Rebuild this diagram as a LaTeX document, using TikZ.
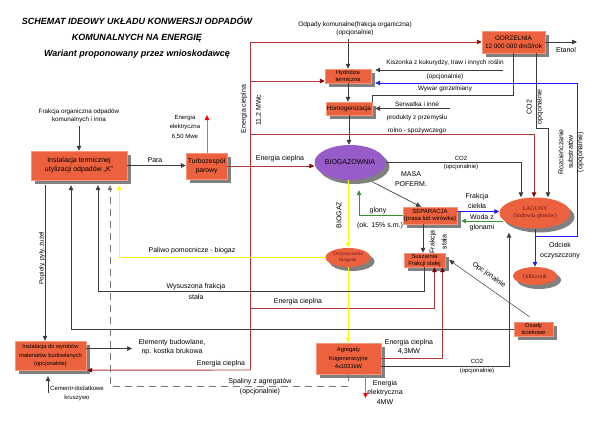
\documentclass[tikz,border=0pt]{standalone}
\usepackage{fontspec}
\setmainfont{Liberation Sans}
\newfontfamily\ovalfont{Liberation Serif}
\usetikzlibrary{arrows.meta,shapes.geometric,shadows}

\definecolor{boxfill}{RGB}{236,98,62}
\definecolor{boxedge}{RGB}{246,150,122}
\definecolor{shade}{RGB}{128,128,128}
\definecolor{biofill}{RGB}{152,92,200}
\definecolor{heatcol}{RGB}{175,55,55}
\definecolor{heatdark}{RGB}{130,0,0}
\definecolor{eleccol}{RGB}{255,90,90}
\definecolor{linegray}{RGB}{60,60,60}
\definecolor{ovaltext}{RGB}{110,20,20}
\definecolor{biogas}{RGB}{255,255,0}
\definecolor{watcol}{RGB}{30,30,255}
\definecolor{algcol}{RGB}{50,150,50}

\tikzset{
	box/.style={draw=boxedge, line width=0.4pt, fill=boxfill, inner sep=0pt, align=center,
		font=\fontsize{6.4}{7.6}\selectfont,
		drop shadow={shadow xshift=4pt, shadow yshift=-4pt, fill=shade, opacity=1}},
	oval/.style={ellipse, fill=boxfill, inner sep=0pt, align=center, text=ovaltext,
		font=\ovalfont\fontsize{5.9}{7}\selectfont,
		drop shadow={shadow xshift=4pt, shadow yshift=-4pt, fill=shade, opacity=1}},
	lbl/.style={inner sep=0pt, align=center, font=\fontsize{7}{10}\selectfont},
	sml/.style={inner sep=0pt, align=center, font=\fontsize{6}{8}\selectfont},
	arr/.style={-{Triangle[length=5pt,width=4.5pt]}},
	gline/.style={draw=linegray, line width=0.7pt},
	heat/.style={draw=heatcol, line width=0.9pt},
	heattip/.style={-{Triangle[length=5pt,width=4.5pt,color=heatdark]}},
	elec/.style={draw=eleccol, line width=0.8pt, -{Triangle[length=5pt,width=4.5pt,color=red]}},
	wat/.style={draw=watcol, line width=0.8pt},
	alg/.style={draw=algcol, line width=0.8pt},
	bio/.style={draw=biogas, line width=0.9pt},
}

\begin{document}
\begin{tikzpicture}[x=1pt, y=-1pt]
		%%%%% START %%%%%
		
		\fill[white] (0,0) rectangle (600,423);
		\useasboundingbox (0,0) rectangle (600,423);
		
		\node[inner sep=0pt, align=center, font=\fontsize{9}{16}\selectfont\bfseries\itshape] (title) at (137,37) {SCHEMAT IDEOWY UKŁADU KONWERSJI ODPADÓW\\KOMUNALNYCH NA ENERGIĘ\\Wariant proponowany przez wnioskodawcę};
		
		\node[box, minimum width=96pt, minimum height=29pt, font=\fontsize{7}{9}\selectfont] (K) at (79,165.5) {Instalacja termicznej\\utylizacji odpadów „K”};
		\node[box, minimum width=41pt, minimum height=26pt, font=\fontsize{6.8}{8.5}\selectfont] (turbo) at (206.5,166) {Turbozespół\\parowy};
		\node[box, minimum width=63pt, minimum height=22pt] (gorz) at (513.5,42) {GORZELNIA\\12 000 000 dm3/rok};
		\node[box, minimum width=46pt, minimum height=14pt, font=\fontsize{5.7}{7}\selectfont] (hydro) at (348,76) {Hydroliza\\termiczna};
		\node[box, minimum width=46pt, minimum height=13pt] (homo) at (349,108.5) {Homogenizacja};
		\node[ellipse, fill=biofill, inner sep=0pt, minimum width=66pt, minimum height=35pt, text=black, font=\fontsize{7}{8}\selectfont,
			drop shadow={shadow xshift=4pt, shadow yshift=-4pt, fill=shade, opacity=1}] (biogaz) at (350,162.5) {BIOGAZOWNIA};
		\node[box, minimum width=54pt, minimum height=17pt, font=\fontsize{6}{7.4}\selectfont] (separ) at (430,215.5) {SEPARACJA\\(prasa lub wirówka)};
		\node[oval, minimum width=71pt, minimum height=31pt] (lagun) at (535,213) {LAGUNY\\(hodowla glonów)};
		\node[oval, minimum width=44pt, minimum height=18pt] (odbior) at (535,276) {Odbiornik};
		\node[oval, minimum width=45pt, minimum height=19pt, font=\ovalfont\fontsize{5.5}{6.5}\selectfont] (oczysz) at (348,257.5) {Oczyszczanie\\biogazu};
		\node[box, minimum width=41pt, minimum height=14pt, font=\fontsize{5.8}{7}\selectfont] (susz) at (424.5,260) {Suszarnia\\Frakcji stałej};
		\node[box, minimum width=39pt, minimum height=14pt, font=\fontsize{5.8}{7}\selectfont] (osady) at (533.5,329) {Osady\\ściekowe};
		\node[box, minimum width=65pt, minimum height=31pt, font=\fontsize{5.8}{8.5}\selectfont] (agreg) at (348.5,358.5) {Agregaty\\Kogeneracyjne\\4x1021kW};
		\node[box, minimum width=71pt, minimum height=29pt, font=\fontsize{5.7}{8.3}\selectfont] (wyrob) at (50.5,355.5) {Instalacja do wyrobów\\materiałów budowlanych\\(opcjonalnie)};
		
		\coordinate (kb) at ([yshift=-5pt]K.south);
		\coordinate (htop) at (250,42);
		\coordinate (hbot) at (250,370);
		\coordinate (kis) at (503,70);
		\coordinate (serw) at (450,108.5);
		\coordinate (eta) at (577,42);
		\coordinate (g2) at ([xshift=22.5pt]gorz.south);
		\coordinate (lb) at ([yshift=-4pt]lagun.south);
		\coordinate (wb) at ([yshift=-6pt]wyrob.south);
		\coordinate (cem) at (48,393);
		\coordinate (elem) at (132,348.5);
		\coordinate (ee1) at (207,115);
		\coordinate (ee2) at (365.5,398);
		
		% labels
		\node[sml, font=\fontsize{6.3}{7.8}\selectfont] (frak) at (79,115.5) {Frakcja organiczna odpadów\\komunalnych i inna};
		\node[lbl] (para) at (155,160) {Para};
		\node[sml, font=\fontsize{6}{9.5}\selectfont] (eeL1) at (185,127) {Energia\\elektryczna\\6,50 Mwe};
		\node[lbl, rotate=90] (eclV) at (244,109) {Energia cieplna};
		\node[lbl, rotate=90] (mwc) at (259,110) {11,2 MWc};
		\node[lbl] (eclT) at (280,159) {Energia cieplna};
		\node[sml, font=\fontsize{6.5}{8.5}\selectfont] (odp) at (355,29) {Odpady komunalne(frakcja organiczna)\\(opcjonalnie)};
		\node[sml, font=\fontsize{6.4}{8}\selectfont] (kisL) at (445,63) {Kiszonka z kukurydzy, traw i innych roślin};
		\node[sml, font=\fontsize{6.4}{8}\selectfont] (kisO) at (445,77) {(opcjonalnie)};
		\node[sml, font=\fontsize{6.4}{8}\selectfont] (wyw) at (445,89) {Wywar gorzelniany};
		\node[sml, font=\fontsize{6.4}{13}\selectfont] (serwL) at (417,118) {Serwatka i inne\\produkty z przemysłu\\rolno - spożywczego};
		\node[lbl] (etaL) at (566,50) {Etanol};
		\node[lbl, rotate=90] (co2g) at (535,107) {CO2\\opcjonalnie};
		\node[lbl, font=\fontsize{7}{9.5}\selectfont, rotate=90] (rozc) at (571,152) {Rozcieńczanie\\substratów\\(opcjonalnie)};
		\node[sml] (co2b) at (461,163) {CO2\\(opcjonalnie)};
		\node[lbl] (masa) at (411,179) {MASA\\POFERM.};
		\node[lbl] (glony) at (378,211) {glony};
		\node[lbl] (ok15) at (380,226) {(ok. 15\% s.m.)};
		\node[lbl] (fciek) at (477,201) {Frakcja\\ciekła};
		\node[lbl] (woda) at (482,223) {Woda z\\glonami};
		\node[lbl, font=\fontsize{7}{12}\selectfont, rotate=90] (fst) at (438,242) {Frakcja\\stała};
		\node[lbl, rotate=90] (bgz) at (339,215) {BIOGAZ};
		\node[lbl] (odciek) at (560,251) {Odciek\\oczyszczony};
		\node[lbl, rotate=-35] (opcj) at (489,275) {Opc jonalnie};
		\node[lbl] (paliwo) at (192,251) {Paliwo pomocnicze - biogaz};
		\node[lbl, font=\fontsize{7}{11}\selectfont] (wysusz) at (196,291.5) {Wysuszona frakcja\\stała};
		\node[lbl] (eclS) at (298,302) {Energia cieplna};
		\node[lbl, font=\fontsize{6.3}{8}\selectfont, rotate=90] (pop) at (42,258) {Popioły, pyły, żużel};
		\node[lbl, font=\fontsize{7}{9}\selectfont] (elemL) at (172,347.5) {Elementy budowlane,\\np. kostka brukowa};
		\node[lbl] (eclW) at (221,364) {Energia cieplna};
		\node[lbl] (spal) at (260,387) {Spaliny z agregatów\\(opcjonalnie)};
		\node[sml, font=\fontsize{6}{9}\selectfont] (cemL) at (77,393.5) {Cement+dodatkowe\\kruszywo};
		\node[lbl, font=\fontsize{7}{9}\selectfont] (ecl43) at (409,346.5) {Energia cieplna\\4,3MW};
		\node[sml, font=\fontsize{6}{9}\selectfont] (co2a) at (477,366.5) {CO2\\(opcjonalnie)};
		\node[lbl, font=\fontsize{7}{9.5}\selectfont] (eeL2) at (385,392) {Energia\\elektryczna\\4MW};
		
		% energia cieplna
		\draw[heat] (hbot) -- (htop);
		\draw[heat, heattip] (htop) -- (gorz.west);
		\draw[heat, heattip] (htop |- 0,81) -- ([yshift=-5pt]hydro.west);
		\draw[heat, heattip] (htop |- 0,134) -| ([xshift=-1pt]lagun.north);
		\draw[heat, heattip] (htop |- 0,308) -| ([xshift=10pt]susz.south);
		\draw[heat, heattip] (hbot) -- ([xshift=1pt]wyrob.south east);
		\draw[heat, heattip] (turbo.east) -- (turbo.east -| biogaz.west);
		\draw[heat, heattip] (agreg.east) -| ([xshift=18pt]susz.south);
		
		% energia elektryczna
		\draw[elec] (turbo.north -| ee1) -- (ee1);
		\draw[elec] ([xshift=17pt]agreg.south) -- (ee2);
		
		% substraty
		\draw[gline, arr, shorten <=3pt] (frak.south) -- (K.north);
		\draw[gline, arr] (K.east) -- (K.east -| turbo.west);
		\draw[gline, arr, shorten <=3pt] (odp.south -| hydro.north) -- (hydro.north);
		\draw[gline, arr] (hydro.south) -- (hydro.south |- homo.north);
		\draw[gline, arr] (homo.south) -- (homo.south |- biogaz.north);
		\draw[gline, arr] (kis) -- ([xshift=4pt,yshift=6pt]hydro.east);
		\draw[gline, arr] (serw) -- ([xshift=3pt]homo.east);
		\draw[gline] (gorz.south) -- (gorz.south |- 0,95) -| (homo.north east);
		\draw[gline, arr] (gorz.east) -- (eta);
		
		% CO2
		\draw[gline, arr] (g2) -- (g2 |- 0,128) -| (lagun.north -| 548,0);
		\draw[gline, arr] (biogaz.east) -| (lagun.north -| 521,0);
		\draw[gline, arr] ([yshift=-8pt]agreg.east) -| (lb -| 509,0);
		
		% separacja i laguny
		\draw[gline, arr] ([xshift=4pt,yshift=-4pt]biogaz.-40) -- ([xshift=-9pt]separ.north);
		\draw[alg, arr] (separ.west) -| ([xshift=9pt,yshift=-10pt]biogaz.south);
		\draw[wat, arr] ([yshift=4pt]separ.east) -- ([yshift=1.5pt]lagun.west);
		\draw[alg, arr] ([xshift=4pt,yshift=-8pt]lagun.west) -- ([xshift=4pt,yshift=-5.5pt]separ.east);
		\draw[gline, arr] ([xshift=-7pt]separ.south) -- ([xshift=-1.5pt]susz.north);
		\draw[wat, arr] (lagun.south) -- (odbior.north);
		\draw[wat, arr] (lagun.south |- 0,236) -| (577,83) -- ([xshift=4pt,yshift=-7pt]hydro.east);
		\draw[draw=linegray, line width=0.5pt, arr] ([xshift=-4pt,yshift=5pt]osady.north) -- ([xshift=4pt]susz.east);
		
		% biogaz
		\draw[bio, arr] (oczysz.north |- biogaz.south) -- (oczysz.north);
		\draw[bio, arr] (oczysz.south) -- (oczysz.south |- agreg.north);
		\draw[bio, arr] (oczysz.west) -| (kb -| 119,0);
		
		% powroty do instalacji K
		\draw[gline, arr] (kb -| 45,0) -- (wyrob.north -| 45,0);
		\draw[gline, arr] (osady.west) -| (kb -| 71,0);
		\draw[gline, arr] (susz.south) -- (susz.south |- 0,291) -| (kb -| 98,0);
		\draw[draw=linegray!70, line width=0.7pt, dash pattern=on 7pt off 5pt, arr] (agreg.south) -- (agreg.south |- 0,386) -| (kb -| 110,0);
		
		% materialy budowlane
		\draw[gline, arr] ([yshift=7pt]wyrob.east) -- (elem);
		\draw[gline, arr] (cem) -- (cem |- wb);
		
		%%%%% END %%%%%
	\end{tikzpicture}
\end{document}
